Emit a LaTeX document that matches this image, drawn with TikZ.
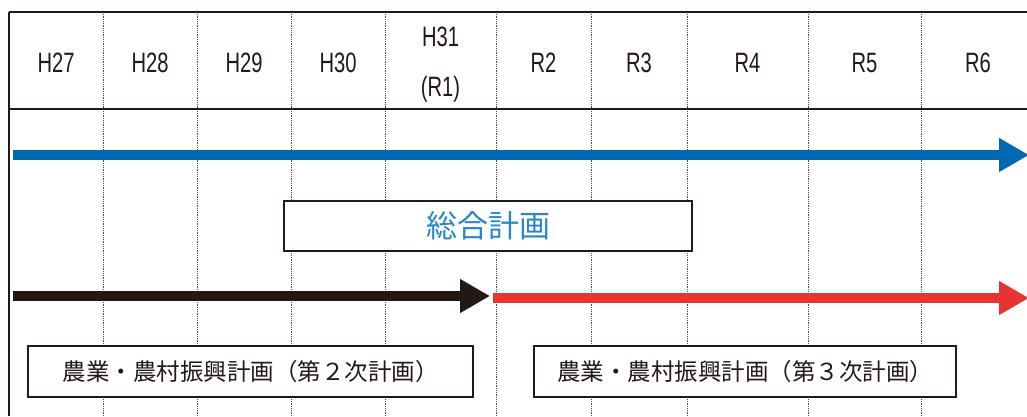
\documentclass[tikz,border=0pt]{standalone}
\usepackage{fontspec}
\setmainfont{Liberation Sans}
\newfontfamily\yearfont[FakeStretch=0.72]{Liberation Sans}
\newfontfamily\jpfont{Noto Sans CJK JP}
\usepackage {tikz}
\usetikzlibrary {arrows.meta}
\definecolor {planblue}{RGB}{0,104,178}
\definecolor {titleblue}{RGB}{40,135,200}
\definecolor {inkblack}{RGB}{35,24,21}
\definecolor {planred}{RGB}{232,51,49}

\begin{document}
\begin{tikzpicture}[x=1pt,y=-1pt]
  \tikzstyle{year}=[font=\yearfont\fontsize{28}{28}\selectfont, text=inkblack, inner sep=0pt]
  \tikzstyle{plan}=[draw=inkblack, line width=1.5pt, fill=white, inner sep=0pt,
font=\jpfont\fontsize{23.5}{23.5}\selectfont, text=inkblack]
  \tikzstyle{grid}=[densely dotted, gray!60!black, line width=0.8pt]
  \tikzstyle{bar}=[line width=10.5pt, -{Triangle[length=30pt,width=32pt]}]
  \useasboundingbox (0,0) rectangle (1027,416);
  % year columns
  \foreach \x in {103,197,291,385,496,591,687,808,921}
    \draw[grid] (\x,12) -- (\x,416);
  \draw[inkblack, line width=1.8pt] (9,12) -- (1027,12);
  \draw[inkblack, line width=1.8pt] (9,109) -- (1027,109);
  \draw[inkblack, line width=2pt] (9,12) -- (9,416);
  \node[year, anchor=base] (Y_1) at (56,72) {H27};
  \node[year, anchor=base] (Y_2) at (150,72) {H28};
  \node[year, anchor=base] (Y_3) at (244,72) {H29};
  \node[year, anchor=base] (Y_4) at (338,72) {H30};
  \node[year, align=center] (Y_5) at (440.5,64.5) {H31\\[22pt](R1)};
  \node[year, anchor=base] (Y_6) at (543.5,72) {R2};
  \node[year, anchor=base] (Y_7) at (639,72) {R3};
  \node[year, anchor=base] (Y_8) at (747.5,72) {R4};
  \node[year, anchor=base] (Y_9) at (864.5,72) {R5};
  \node[year, anchor=base] (Y_10) at (978,72) {R6};
  % plans
  \coordinate (B_s) at (13,155);
  \coordinate (B_e) at (1029,155);
  \coordinate (K_s) at (13,296);
  \coordinate (K_e) at (490,296);
  \coordinate (R_s) at (493,298);
  \coordinate (R_e) at (1029,298);
  \draw[bar, planblue] (B_s) -- (B_e);
  \draw[bar, inkblack] (K_s) -- (K_e);
  \draw[bar, planred] (R_s) -- (R_e);
  \node[plan, minimum width=408pt, minimum height=50pt, text=titleblue,
font=\jpfont\fontsize{31}{31}\selectfont] (P_1) at (488,226) {総合計画};
  \node[plan, minimum width=445pt, minimum height=51pt] (P_2) at (250.5,371.5) {農業・農村振興計画（第２次計画）};
  \node[plan, minimum width=422pt, minimum height=51pt] (P_3) at (745,371.5) {農業・農村振興計画（第３次計画）};
\end{tikzpicture}
\end{document}
